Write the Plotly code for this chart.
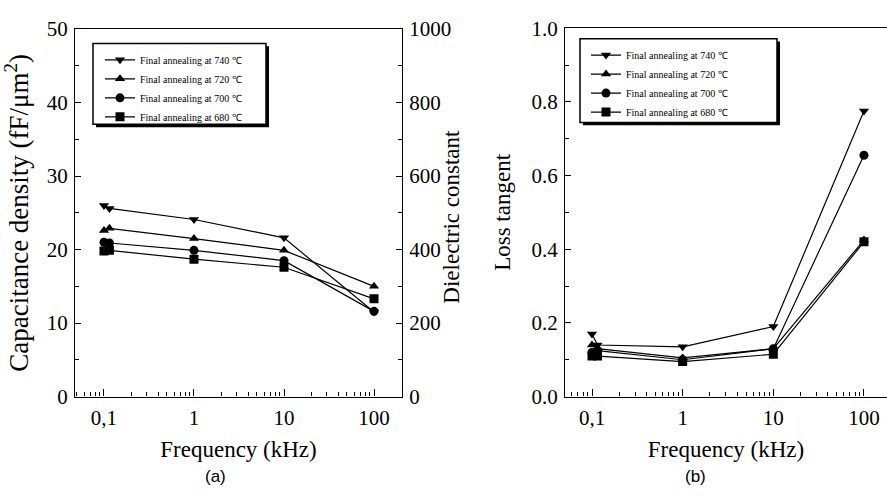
import plotly.graph_objects as go
import numpy as np

# ---------------- data ----------------
freq = [0.1, 0.115, 1, 10, 100]          # kHz
labels = ["Final annealing at 740 ℃", "Final annealing at 720 ℃",
          "Final annealing at 700 ℃", "Final annealing at 680 ℃"]
symbols = ["triangle-down", "triangle-up", "circle", "square"]

cap_740 = [26.0, 25.6, 24.1, 21.6, 11.5]
cap_720 = [22.6, 22.9, 21.5, 19.9, 15.0]
cap_700 = [21.0, 20.9, 19.9, 18.5, 11.6]
cap_680 = [19.8, 19.9, 18.7, 17.6, 13.3]

tan_740 = [0.17, 0.14, 0.135, 0.19, 0.775]
tan_720 = [0.14, 0.13, 0.105, 0.13, 0.425]
tan_700 = [0.12, 0.125, 0.100, 0.13, 0.655]
tan_680 = [0.11, 0.11, 0.095, 0.115, 0.42]

xtick_vals = [0.1, 1, 10, 100]
xtick_text = ["0,1", "1", "10", "100"]

cap_series = [cap_740, cap_720, cap_700, cap_680]
tan_series = [tan_740, tan_720, tan_700, tan_680]

# ---------------- figure ----------------
W, H = 887, 500
fig = go.Figure()
serif = "Liberation Serif"
sans = "Liberation Sans"

for lab, sym, ys in zip(labels, symbols, cap_series):
    fig.add_trace(go.Scatter(x=freq, y=ys, mode="lines+markers", name=lab,
                             line=dict(color="black", width=1.2),
                             marker=dict(symbol=sym, size=9, color="black"),
                             xaxis="x", yaxis="y", legend="legend"))
# right axis (dielectric constant) carrier
fig.add_trace(go.Scatter(x=[], y=[], xaxis="x", yaxis="y2", showlegend=False))

for lab, sym, ys in zip(labels, symbols, tan_series):
    fig.add_trace(go.Scatter(x=freq, y=ys, mode="lines+markers", name=lab,
                             line=dict(color="black", width=1.2),
                             marker=dict(symbol=sym, size=9, color="black"),
                             xaxis="x2", yaxis="y3", legend="legend2"))

minor_x = [m * 10.0 ** e for e in range(-2, 3) for m in range(2, 10)]


def px(v):
    return v / W


def py(v):
    return 1 - v / H


tickfont = dict(family=serif, size=21, color="black")


def titlefont():
    return dict(family=serif, size=23, color="black")


def make_x(domain, rng, anchor):
    return dict(type="log", showline=True, linecolor="black", linewidth=1.3,
                mirror=True, ticks="inside", ticklen=7, tickcolor="black",
                tickvals=xtick_vals, ticktext=xtick_text, showgrid=False,
                zeroline=False, ticklabelstandoff=2,
                minor=dict(tickvals=minor_x, ticks="inside", ticklen=4,
                           tickcolor="black", showgrid=False),
                tickfont=dict(tickfont),
                title=dict(text="Frequency (kHz)", standoff=11, font=titlefont()),
                domain=domain, range=rng, anchor=anchor)


def legend_common(x, y):
    return dict(x=x, y=y, xanchor="left", yanchor="top", bgcolor="rgba(0,0,0,0)",
                borderwidth=0, font=dict(family=serif, size=10, color="black"),
                itemwidth=30, tracegroupgap=0)


shapes = []
for (x0, y0, x1, y1) in [(93, 33, 266, 118), (580, 28, 777, 116)]:
    shapes.append(dict(type="rect", xref="paper", yref="paper",
                       x0=px(x0 + 3), x1=px(x1 + 3), y0=py(y1 + 3), y1=py(y0 + 3),
                       fillcolor="black", line=dict(width=0), layer="above"))
    shapes.append(dict(type="rect", xref="paper", yref="paper",
                       x0=px(x0), x1=px(x1), y0=py(y1), y1=py(y0),
                       fillcolor="white", line=dict(color="black", width=1.5),
                       layer="above"))

fig.update_layout(
    width=W, height=H, margin=dict(l=0, r=0, t=0, b=0),
    font=dict(family=serif, color="black"),
    plot_bgcolor="white", paper_bgcolor="white",
    xaxis=make_x([px(75), px(402)], [-1.322, 2.311], "y"),
    yaxis=dict(domain=[py(404), py(18)], range=[0, 50], anchor="x",
               showline=True, linecolor="black", linewidth=1.3,
               ticks="inside", ticklen=6, tickcolor="black", dtick=10,
               showgrid=False, zeroline=False, ticklabelstandoff=2,
               minor=dict(dtick=5, ticks="inside", ticklen=4, tickcolor="black"),
               tickfont=dict(tickfont),
               title=dict(text="Capacitance density (fF/μm<sup>2</sup>)", standoff=14,
                          font=dict(family=serif, size=27, color="black"))),
    yaxis2=dict(overlaying="y", side="right", anchor="x", range=[0, 1000],
                showline=True, linecolor="black", linewidth=1.3,
                ticks="inside", ticklen=6, tickcolor="black", dtick=200,
                showgrid=False, zeroline=False, ticklabelstandoff=2,
                minor=dict(dtick=100, ticks="inside", ticklen=4, tickcolor="black"),
                tickfont=dict(tickfont)),
    xaxis2=make_x([px(565), px(887)], [-1.298, 2.254], "y3"),
    yaxis3=dict(domain=[py(404), py(17)], range=[0, 1.0], anchor="x2",
                showline=True, linecolor="black", linewidth=1.3,
                ticks="inside", ticklen=6, tickcolor="black", dtick=0.2,
                tickformat=".1f", showgrid=False, zeroline=False, ticklabelstandoff=2,
                minor=dict(dtick=0.1, ticks="inside", ticklen=4, tickcolor="black"),
                tickfont=dict(tickfont),
                title=dict(text="Loss tangent", standoff=14, font=titlefont())),
    legend=legend_common(px(100), py(35)),
    legend2=legend_common(px(586), py(30)),
    shapes=shapes,
    annotations=[
        dict(text="Dielectric constant", x=px(452), y=py(215), xref="paper", yref="paper",
             textangle=-90, showarrow=False, xanchor="center", yanchor="middle",
             font=titlefont()),
        dict(text="(a)", x=px(215), y=py(488), xref="paper", yref="paper",
             xanchor="center", yanchor="middle",
             showarrow=False, font=dict(family=sans, size=17, color="black")),
        dict(text="(b)", x=px(695), y=py(488), xref="paper", yref="paper",
             xanchor="center", yanchor="middle",
             showarrow=False, font=dict(family=sans, size=17, color="black")),
    ],
)

fig.write_html("out.html")
